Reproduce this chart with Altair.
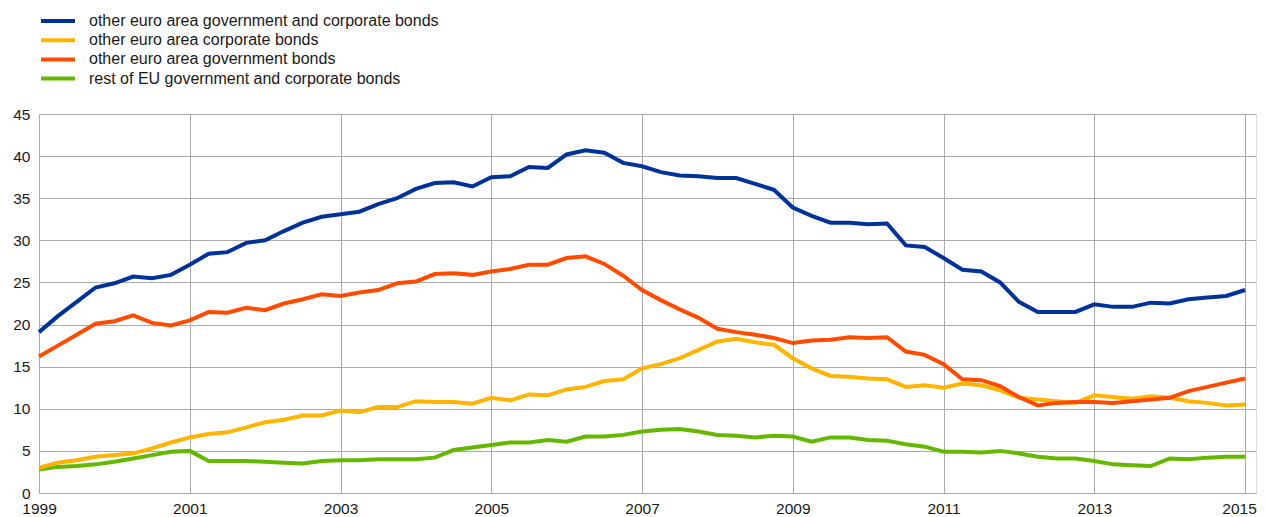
import altair as alt
import pandas as pd

series_names = [
    "other euro area government and corporate bonds",
    "other euro area corporate bonds",
    "other euro area government bonds",
    "rest of EU government and corporate bonds",
]
series_colors = ["#003299", "#FFB400", "#FF4B00", "#65B800"]
series_widths = [4, 4, 4, 2.5]

# quarterly observations, first one at the start of 1999
first_year = 1999
n_obs = 65

blue = [19.1, 21.0, 22.7, 24.4, 24.9, 25.7, 25.5, 25.9, 27.1, 28.4, 28.6, 29.7, 30.0, 31.1, 32.1, 32.8, 33.1, 33.4, 34.3, 35.0, 36.1,
        36.8, 36.9, 36.4, 37.5, 37.6, 38.7, 38.6, 40.2, 40.7, 40.4, 39.2, 38.8, 38.1, 37.7, 37.6, 37.4, 37.4, 36.7, 36.0, 33.9, 32.9, 32.1,
        32.1, 31.9, 32.0, 29.4, 29.2, 27.9, 26.5, 26.3, 25.0, 22.7, 21.5, 21.5, 21.5, 22.4, 22.1, 22.1, 22.6, 22.5, 23.0, 23.2, 23.4, 24.1]
yellow = [3.0, 3.6, 3.9, 4.3, 4.5, 4.7, 5.3, 6.0, 6.6, 7.0, 7.2, 7.8, 8.4, 8.7, 9.2, 9.2, 9.8, 9.6, 10.2, 10.2, 10.9,
          10.8, 10.8, 10.6, 11.3, 11.0, 11.7, 11.6, 12.3, 12.6, 13.3, 13.5, 14.8, 15.3, 16.0, 17.0, 18.0, 18.3, 17.9, 17.6, 16.0, 14.8, 13.9,
          13.8, 13.6, 13.5, 12.6, 12.8, 12.5, 13.0, 12.8, 12.2, 11.3, 11.1, 10.9, 10.7, 11.6, 11.4, 11.2, 11.5, 11.3, 10.9, 10.7, 10.4, 10.5]
red = [16.2, 17.5, 18.8, 20.1, 20.4, 21.1, 20.2, 19.9, 20.5, 21.5, 21.4, 22.0, 21.7, 22.5, 23.0, 23.6, 23.4, 23.8, 24.1, 24.9, 25.1,
       26.0, 26.1, 25.9, 26.3, 26.6, 27.1, 27.1, 27.9, 28.1, 27.2, 25.8, 24.1, 22.9, 21.8, 20.8, 19.5, 19.1, 18.8, 18.4, 17.8, 18.1, 18.2,
       18.5, 18.4, 18.5, 16.8, 16.4, 15.3, 13.5, 13.4, 12.7, 11.4, 10.4, 10.7, 10.8, 10.8, 10.7, 10.9, 11.1, 11.3, 12.1, 12.6, 13.1, 13.6]
green = [2.8, 3.1, 3.2, 3.4, 3.7, 4.1, 4.5, 4.9, 5.0, 3.8, 3.8, 3.8, 3.7, 3.6, 3.5, 3.8, 3.9, 3.9, 4.0, 4.0, 4.0,
         4.2, 5.1, 5.4, 5.7, 6.0, 6.0, 6.3, 6.1, 6.7, 6.7, 6.9, 7.3, 7.5, 7.6, 7.3, 6.9, 6.8, 6.6, 6.8, 6.7, 6.1, 6.6,
         6.6, 6.3, 6.2, 5.8, 5.5, 4.9, 4.9, 4.8, 5.0, 4.7, 4.3, 4.1, 4.1, 3.8, 3.4, 3.3, 3.2, 4.1, 4.0, 4.2, 4.3, 4.3]

x_ticks = [1999, 2001, 2003, 2005, 2007, 2009, 2011, 2013, 2015]
y_ticks = [0, 5, 10, 15, 20, 25, 30, 35, 40, 45]

periods = [first_year + i / 4 for i in range(n_obs)]
rows = []
for name, vals in zip(series_names, [blue, yellow, red, green]):
    for p, v in zip(periods, vals):
        rows.append({"period": p, "value": v, "series": name})
df = pd.DataFrame(rows)

FONT = "Liberation Sans"
GRID = "#ababab"

x_enc = alt.X("period:Q",
              scale=alt.Scale(domain=[1999, 2015.145], nice=False, zero=False),
              axis=alt.Axis(values=x_ticks, format="d", title=None, grid=True,
                            ticks=False, labelPadding=8, labelFontSize=15.5,
                            labelFont=FONT, labelColor="#1a1a1a",
                            labelOffset={"condition": {"test": "datum.value == 2015", "value": -6}, "value": 0},
                            domainColor=GRID, gridColor=GRID, labelFlush=False))
y_enc = alt.Y("value:Q",
              scale=alt.Scale(domain=[0, 45], nice=False),
              axis=alt.Axis(values=y_ticks, title=None, grid=True, ticks=False,
                            labelPadding=9, labelFontSize=15.5, labelFont=FONT,
                            labelColor="#1a1a1a", domainColor=GRID, gridColor=GRID))
color_enc = alt.Color("series:N",
                      scale=alt.Scale(domain=series_names, range=series_colors),
                      legend=alt.Legend(orient="none", legendX=0, legendY=-101,
                                        title=None, symbolType="stroke",
                                        symbolSize=1156, symbolStrokeWidth=4,
                                        labelFontSize=16, labelFont=FONT,
                                        labelColor="#1a1a1a", labelOffset=12,
                                        clipHeight=16, rowPadding=3.2,
                                        direction="vertical", labelLimit=600))
width_enc = alt.StrokeWidth("series:N",
                            scale=alt.Scale(domain=series_names, range=series_widths),
                            legend=None)

draw_order = [series_names[3], series_names[1], series_names[2], series_names[0]]
layers = []
for name in draw_order:
    layers.append(
        alt.Chart(df).transform_filter(alt.datum.series == name)
        .mark_line(strokeJoin="miter", strokeCap="butt")
        .encode(x=x_enc, y=y_enc, color=color_enc, strokeWidth=width_enc)
    )

chart = alt.layer(*layers).properties(
    width=1217, height=379,
    padding={"left": 31, "top": 106, "right": 1, "bottom": 24},
    autosize=alt.AutoSizeParams(type="none"),
).configure_view(stroke=GRID, strokeWidth=1).configure(background="white")

chart.save("out.html", embed_options={"renderer": "svg", "actions": False})
